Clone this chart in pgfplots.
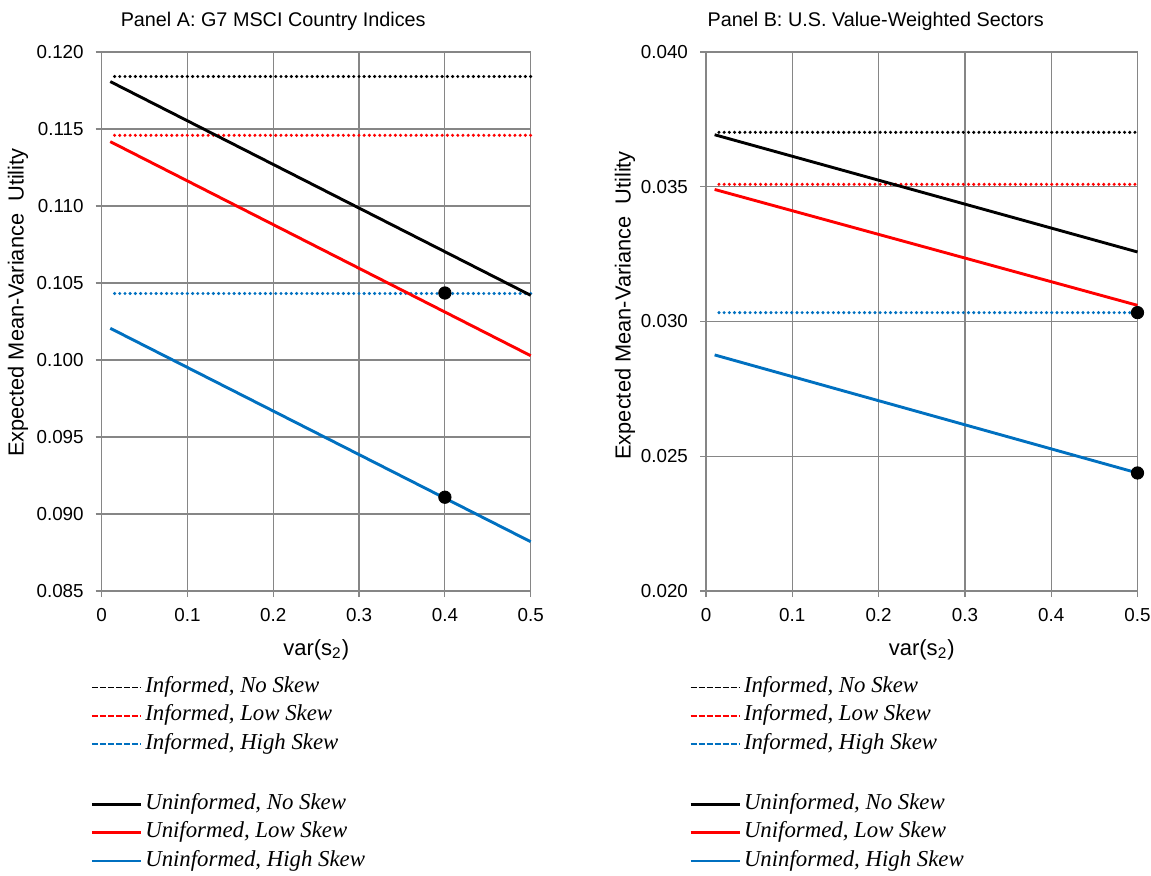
\documentclass[border=0pt]{standalone}
\usepackage{fontspec}
\setmainfont{Liberation Sans}
\newfontfamily\tnr{Liberation Serif}
\usepackage{pgfplots}
\pgfplotsset{compat=1.18}

\definecolor{xlblue}{RGB}{0,112,192}
\definecolor{xlred}{RGB}{255,0,0}
\definecolor{gridgray}{RGB}{134,134,134}

\pgfplotsset{
  panel/.style={
    scale only axis, width=214.5pt, height=269.5pt, anchor=south west,
    xmin=0, xmax=0.5, xtick={0,0.1,0.2,0.3,0.4,0.5},
    grid=major, major grid style={gridgray, line width=0.6pt},
    axis line style={gridgray, line width=0.6pt},
    tick style={gridgray, line width=0.6pt},
    tick align=outside, major tick length=3pt, tick pos=left,
    /pgf/number format/assume math mode=true,
    tick label style={font=\fontsize{9.4}{11}\selectfont},
    scaled y ticks=false,
    yticklabel style={xshift=-2.5pt, /pgf/number format/.cd, fixed, fixed zerofill, precision=3},
    xticklabel style={yshift=-2pt, /pgf/number format/.cd, fixed, precision=1},
    clip=false,
    title style={at={(0,1)}, anchor=base west, font=\fontsize{9.9}{12}\selectfont},
    xlabel={var(s\textsubscript{2})},
    xlabel style={at={(axis description cs:0.5,0)}, anchor=base, yshift=-32pt,
      font=\fontsize{11}{13}\selectfont},
    ylabel={Expected Mean-Variance\ \ Utility},
    ylabel style={anchor=center, font=\fontsize{10.9}{13}\selectfont},
    legend style={draw=none, fill=none, inner sep=0pt, anchor=north west,
      font=\tnr\itshape\fontsize{11.4}{13}\selectfont,
      nodes={inner sep=0pt, text height=9.6pt, text depth=4.6pt}, row sep=0pt},
    legend cell align=left,
    legend image code/.code={\draw[#1] (0pt,0pt) -- (24.5pt,0pt); \path (26pt,0pt);},
  },
  inf/.style={line width=1.7pt, line cap=round, dash pattern=on 0pt off 2.6pt},
  uninf/.style={line width=1.45pt},
  dots/.style={only marks, mark=*, mark size=3.1pt, black},
}

\newcommand{\legendentries}{%
  \addlegendimage{black, line width=0.9pt, dash pattern=on 3pt off 1pt}
  \addlegendentry{Informed, No Skew}
  \addlegendimage{xlred, line width=0.9pt, dash pattern=on 3pt off 1pt}
  \addlegendentry{Informed, Low Skew}
  \addlegendimage{xlblue, line width=0.9pt, dash pattern=on 3pt off 1pt}
  \addlegendentry{Informed, High Skew}
  \addlegendimage{legend image code/.code={\path[draw=none, fill=none] (0pt,-8.7pt) rectangle (0pt,7pt);}}
  \addlegendentry{}
  \addlegendimage{black, line width=1.45pt}
  \addlegendentry{Uninformed, No Skew}
  \addlegendimage{xlred, line width=1.45pt}
  \addlegendentry{Uniformed, Low Skew}
  \addlegendimage{xlblue, line width=1.45pt}
  \addlegendentry{Uninformed, High Skew}
}

\begin{document}
\begin{tikzpicture}
\path[use as bounding box] (0,0) rectangle (575.5pt,437.5pt);

% Panel A
\begin{axis}[panel, at={(50.85pt,142pt)},
    ymin=0.085, ymax=0.120,
    ytick={0.085,0.090,0.095,0.100,0.105,0.110,0.115,0.120},
    title={Panel A: G7 MSCI Country Indices},
    title style={xshift=6pt, yshift=6.8pt},
    ylabel style={at={(axis description cs:-0.195,0.535)}},
    legend style={at={(axis description cs:0,0)}, xshift=-5.85pt, yshift=-40.9pt}]
\addplot[inf, black, forget plot] coordinates {(0.015,0.11841) (0.5,0.11841)};
\addplot[inf, xlred, forget plot] coordinates {(0.015,0.11459) (0.5,0.11459)};
\addplot[inf, xlblue, forget plot] coordinates {(0.015,0.10432) (0.5,0.10432)};
\addplot[uninf, black, forget plot] coordinates {(0.01,0.11808) (0.5,0.10420)};
\addplot[uninf, xlred, forget plot] coordinates {(0.01,0.11418) (0.5,0.10028)};
\addplot[uninf, xlblue, forget plot] coordinates {(0.01,0.10206) (0.5,0.08820)};
\addplot[dots, forget plot] coordinates {(0.4,0.10435) (0.4,0.09109)};
\legendentries
\end{axis}

% Panel B
\begin{axis}[panel, at={(353pt,142pt)}, width=215.75pt,
    ymin=0.020, ymax=0.040,
    ytick={0.020,0.025,0.030,0.035,0.040},
    title={Panel B: U.S. Value-Weighted Sectors},
    title style={xshift=-2.7pt, yshift=6.8pt},
    ylabel style={at={(axis description cs:-0.188,0.53)}},
    legend style={at={(axis description cs:0,0)}, xshift=-8.65pt, yshift=-40.9pt}]
\addplot[inf, black, forget plot] coordinates {(0.015,0.03702) (0.5,0.03702)};
\addplot[inf, xlred, forget plot] coordinates {(0.015,0.03509) (0.5,0.03509)};
\addplot[inf, xlblue, forget plot] coordinates {(0.015,0.03033) (0.5,0.03033)};
\addplot[uninf, black, forget plot] coordinates {(0.01,0.03693) (0.5,0.03258)};
\addplot[uninf, xlred, forget plot] coordinates {(0.01,0.03490) (0.5,0.03060)};
\addplot[uninf, xlblue, forget plot] coordinates {(0.01,0.02876) (0.5,0.02438)};
\addplot[dots, forget plot] coordinates {(0.5,0.03033) (0.5,0.02438)};
\legendentries
\end{axis}
\end{tikzpicture}
\end{document}
